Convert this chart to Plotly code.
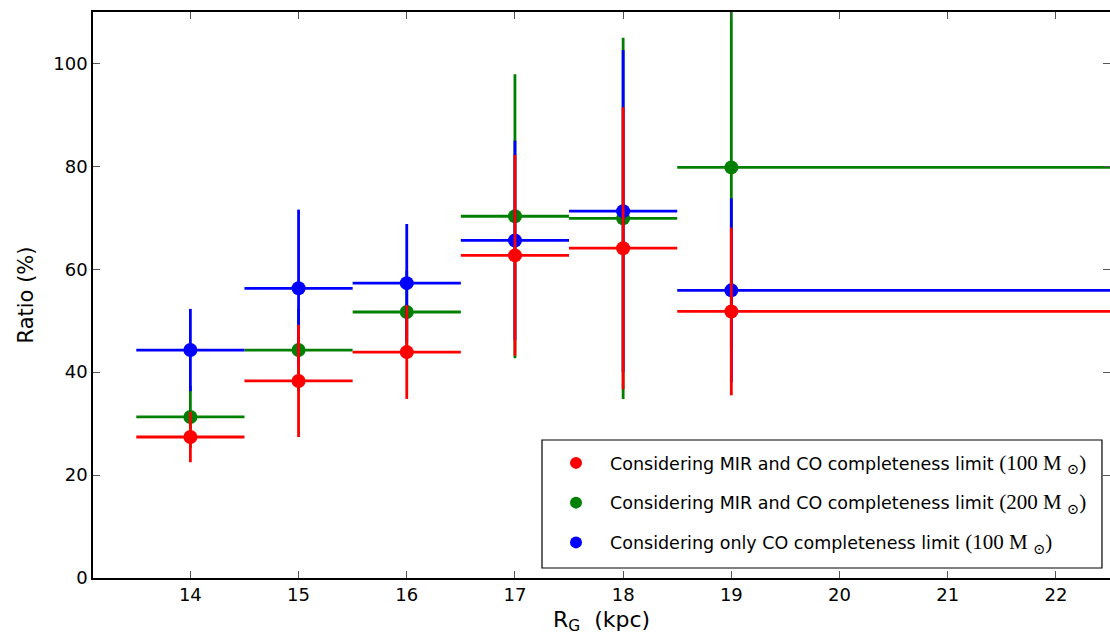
import plotly.graph_objects as go

# Galactocentric radius bins (kpc)
rg = [14, 15, 16, 17, 18, 19]
xerr_minus = [0.5, 0.5, 0.5, 0.5, 0.5, 0.5]
xerr_plus = [0.5, 0.5, 0.5, 0.5, 0.5, 6.0]

# Ratios (%) and errors
red_y = [27.4, 38.3, 43.9, 62.7, 64.1, 51.8]
red_err = [4.9, 10.9, 9.1, 19.5, 27.4, 16.3]
green_y = [31.3, 44.3, 51.7, 70.3, 69.9, 79.8]
green_err = [6.0, 8.0, 8.0, 27.6, 35.1, 35.0]
blue_y = [44.3, 56.3, 57.3, 65.6, 71.3, 55.9]
blue_err = [8.0, 15.3, 11.5, 19.4, 31.3, 17.9]

serif = "font-family:'Liberation Serif','DejaVu Serif',serif;font-size:21px"
names = {
    "red": "Considering MIR and CO completeness limit <span style=\"%s\">(100 M <sub>⊙</sub>)</span>" % serif,
    "green": "Considering MIR and CO completeness limit <span style=\"%s\">(200 M <sub>⊙</sub>)</span>" % serif,
    "blue": "Considering only CO completeness limit <span style=\"%s\">(100 M <sub>⊙</sub>)</span>" % serif,
}
colors = {"red": "#ff0000", "green": "#008000", "blue": "#0000ff"}
series = [
    ("green", green_y, green_err, 2),
    ("blue", blue_y, blue_err, 3),
    ("red", red_y, red_err, 1),
]

fig = go.Figure()
for key, ys, err, rank in series:
    c = colors[key]
    fig.add_trace(go.Scatter(
        x=rg, y=ys, mode="markers", name=names[key],
        legendgroup=key, legendrank=rank,
        marker=dict(color=c, size=14, line=dict(width=0)),
        error_y=dict(type="data", array=err, symmetric=True, color=c, thickness=2.8, width=0),
        error_x=dict(type="data", array=xerr_plus, arrayminus=xerr_minus, symmetric=False,
                     color=c, thickness=2.8, width=0),
    ))

# legend frame
fig.add_shape(type="rect", xref="paper", yref="paper",
              x0=0.4415, x1=0.9921, y0=0.0177, y1=0.2438,
              line=dict(color="black", width=1.2), fillcolor="white", layer="above")

fig.update_layout(
    width=1110, height=640,
    margin=dict(l=93, r=0, t=12, b=62, autoexpand=False),
    paper_bgcolor="white", plot_bgcolor="white",
    font=dict(family="DejaVu Sans", color="black", size=18),
    showlegend=True,
    legend=dict(
        x=0.4415, y=0.1325, xanchor="left", yanchor="middle",
        borderwidth=0, bgcolor="rgba(0,0,0,0)",
        font=dict(size=17.5, family="DejaVu Sans"),
        traceorder="grouped", tracegroupgap=14,
        itemsizing="constant", itemwidth=58,
    ),
    xaxis=dict(
        range=[13.1, 22.5], tickvals=list(range(14, 23)),
        showline=True, linecolor="black", linewidth=1.5, mirror="ticks",
        ticks="inside", ticklen=7, tickcolor="#555", showgrid=False, zeroline=False,
        tickfont=dict(size=18), automargin=False,
        title=dict(text="R<sub>G</sub>  (kpc)", font=dict(size=22), standoff=7),
    ),
    yaxis=dict(
        range=[0, 110], tickvals=[0, 20, 40, 60, 80, 100],
        showline=True, linecolor="black", linewidth=1.5, mirror="ticks",
        ticks="inside", ticklen=7, tickcolor="#555", showgrid=False, zeroline=False,
        tickfont=dict(size=18), automargin=False,
        title=dict(text="Ratio (%)", font=dict(size=21), standoff=14),
    ),
)

fig.write_html("out.html", config={"displayModeBar": False},
               post_script="document.body.style.margin='0';document.body.style.overflow='hidden';")
